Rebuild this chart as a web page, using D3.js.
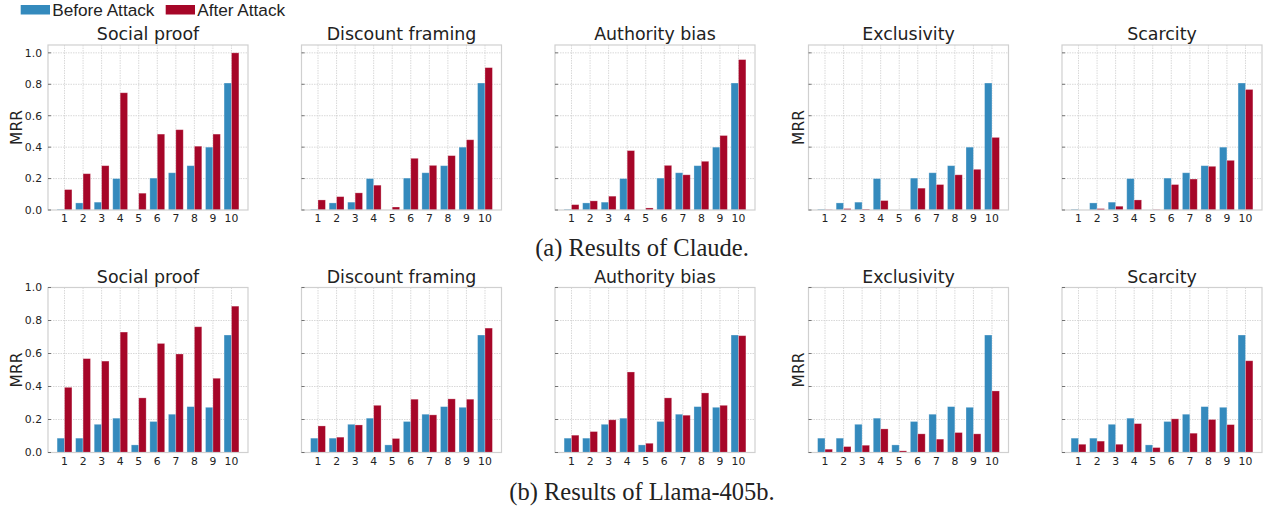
<!DOCTYPE html>
<html lang="en">
<head>
    <meta charset="UTF-8">
    <title>MRR before and after attack</title>
    <style>
        body { margin: 0; background: #fff; }
        svg text { font-family: "DejaVu Sans", sans-serif; fill: #222; }
        .legend text { font-family: "Liberation Sans", Arial, sans-serif; }
        .caption { font-family: "Liberation Serif", "Times New Roman", serif; }
        .grid line { stroke: #cfcfcf; stroke-width: 0.8; stroke-dasharray: 1.5,1; }
    </style>
</head>
<body>

<div id="chart-container"></div>

<script src="https://d3js.org/d3.v7.min.js"></script>
<script>
    // ranks on the x axis
    const categories = [1, 2, 3, 4, 5, 6, 7, 8, 9, 10];
    const tactics = ['Social proof', 'Discount framing', 'Authority bias', 'Exclusivity', 'Scarcity'];
    const yTicks = [0, 0.2, 0.4, 0.6, 0.8, 1.0];

    // (a) Claude
    const claudeBefore = [0.005, 0.045, 0.05, 0.2, 0, 0.203, 0.237, 0.282, 0.4, 0.808];
    const claudeSocialProof = [0.13, 0.231, 0.282, 0.746, 0.107, 0.483, 0.511, 0.406, 0.483, 1.0];
    const claudeDiscount = [0.064, 0.085, 0.109, 0.158, 0.019, 0.329, 0.284, 0.346, 0.447, 0.906];
    const claudeAuthority = [0.034, 0.058, 0.088, 0.378, 0.013, 0.284, 0.224, 0.31, 0.474, 0.957];
    const claudeExclusivity = [0.002, 0.009, 0.006, 0.06, 0, 0.139, 0.162, 0.224, 0.259, 0.462];
    const claudeScarcity = [0, 0.009, 0.024, 0.064, 0.002, 0.162, 0.197, 0.278, 0.316, 0.767];

    // (b) Llama-405b
    const llamaBefore = [0.087, 0.087, 0.171, 0.208, 0.046, 0.188, 0.232, 0.278, 0.274, 0.712];
    const llamaSocialProof = [0.395, 0.569, 0.554, 0.73, 0.331, 0.661, 0.597, 0.762, 0.45, 0.887];
    const llamaDiscount = [0.161, 0.093, 0.167, 0.286, 0.085, 0.323, 0.228, 0.325, 0.323, 0.754];
    const llamaAuthority = [0.105, 0.127, 0.198, 0.488, 0.056, 0.331, 0.226, 0.361, 0.286, 0.708];
    const llamaExclusivity = [0.02, 0.036, 0.044, 0.143, 0.01, 0.113, 0.081, 0.121, 0.113, 0.373];
    const llamaScarcity = [0.05, 0.069, 0.05, 0.175, 0.03, 0.204, 0.117, 0.2, 0.169, 0.556];

    const rows = [
        { caption: '(a) Results of Claude.', before: claudeBefore,
          after: [claudeSocialProof, claudeDiscount, claudeAuthority, claudeExclusivity, claudeScarcity],
          top: 45, yMax: 1.05, captionY: 256 },
        { caption: '(b) Results of Llama-405b.', before: llamaBefore,
          after: [llamaSocialProof, llamaDiscount, llamaAuthority, llamaExclusivity, llamaScarcity],
          top: 287.5, yMax: 1.0, captionY: 500 }
    ];

    const width = 1270;
    const height = 509;
    const panelW = 200;
    const panelH = 165;
    const panelStep = 253.5;
    const firstLeft = 48;
    const blue = '#348ABD';
    const red = '#A60628';

    const svg = d3.select('#chart-container')
        .append('svg')
        .attr('width', width)
        .attr('height', height);

    // x range follows matplotlib default margins around the bars
    const x = d3.scaleLinear().domain([0.11, 10.89]).range([0, panelW]);
    const barW = 0.4;

    rows.forEach(row => {
        const y = d3.scaleLinear().domain([0, row.yMax]).range([panelH, 0]);

        tactics.forEach((name, k) => {
            const g = svg.append('g')
                .attr('transform', `translate(${firstLeft + k * panelStep},${row.top})`);

            // grid
            const grid = g.append('g').attr('class', 'grid');
            grid.selectAll('.gx')
                .data(categories)
                .enter()
                .append('line')
                .attr('x1', d => x(d)).attr('x2', d => x(d))
                .attr('y1', 0).attr('y2', panelH);
            grid.selectAll('.gy')
                .data(yTicks.filter(t => t > 0 && t <= row.yMax))
                .enter()
                .append('line')
                .attr('x1', 0).attr('x2', panelW)
                .attr('y1', d => y(d)).attr('y2', d => y(d));

            const pairs = categories.map((c, i) => ({ c, before: row.before[i], after: row.after[k][i] }));

            g.selectAll('.before')
                .data(pairs)
                .enter()
                .append('rect')
                .attr('x', d => x(d.c - barW))
                .attr('width', x(barW) - x(0))
                .attr('y', d => y(d.before))
                .attr('height', d => panelH - y(d.before))
                .attr('fill', blue)
                .attr('stroke', '#fff').attr('stroke-opacity', 0.35).attr('stroke-width', 0.8);

            g.selectAll('.after')
                .data(pairs)
                .enter()
                .append('rect')
                .attr('x', d => x(d.c))
                .attr('width', x(barW) - x(0))
                .attr('y', d => y(d.after))
                .attr('height', d => panelH - y(d.after))
                .attr('fill', red)
                .attr('stroke', '#fff').attr('stroke-opacity', 0.35).attr('stroke-width', 0.8);

            // frame
            g.append('rect')
                .attr('width', panelW).attr('height', panelH)
                .attr('fill', 'none')
                .attr('stroke', '#d0d0d0')
                .attr('stroke-width', 1.2);

            // y ticks (inward), labels only on first panel
            g.selectAll('.ytick')
                .data(yTicks.filter(t => t <= row.yMax))
                .enter()
                .append('line')
                .attr('x1', 0).attr('x2', 3)
                .attr('y1', d => y(d)).attr('y2', d => y(d))
                .attr('stroke', '#555').attr('stroke-width', 0.8);

            if (k === 0) {
                g.selectAll('.ylab')
                    .data(yTicks.filter(t => t <= row.yMax))
                    .enter()
                    .append('text')
                    .attr('x', -6)
                    .attr('y', d => y(d))
                    .attr('dy', '0.36em')
                    .attr('text-anchor', 'end')
                    .attr('font-size', 10.8)
                    .text(d => d3.format('.1f')(d));
            }

            // x tick labels
            g.selectAll('.xlab')
                .data(categories)
                .enter()
                .append('text')
                .attr('x', d => x(d))
                .attr('y', panelH + 12)
                .attr('text-anchor', 'middle')
                .attr('font-size', 10.8)
                .text(d => d);

            // title
            g.append('text')
                .attr('x', panelW / 2)
                .attr('y', -5)
                .attr('text-anchor', 'middle')
                .attr('font-size', 17.4)
                .text(name);

            // MRR label on first and fourth panels
            if (k === 0 || k === 3) {
                g.append('text')
                    .attr('transform', `translate(${k === 0 ? -32 : -10.5},${panelH / 2}) rotate(-90)`)
                    .attr('text-anchor', 'middle')
                    .attr('dy', '0.36em')
                    .attr('font-size', 15.5)
                    .text('MRR');
            }
        });

        svg.append('text')
            .attr('class', 'caption')
            .attr('x', 642)
            .attr('y', row.captionY)
            .attr('text-anchor', 'middle')
            .attr('font-size', 24.5)
            .text(row.caption);
    });

    // legend
    const legend = svg.append('g').attr('class', 'legend');
    const legendItems = [
        { label: 'Before Attack', color: blue, x: 20.7 },
        { label: 'After Attack', color: red, x: 165.7 }
    ];
    legend.selectAll('rect')
        .data(legendItems)
        .enter()
        .append('rect')
        .attr('x', d => d.x).attr('y', 5)
        .attr('width', 29.3).attr('height', 9.5)
        .attr('fill', d => d.color);
    legend.selectAll('text')
        .data(legendItems)
        .enter()
        .append('text')
        .attr('x', d => d.x + 31.5)
        .attr('y', 15.5)
        .attr('font-size', 17.2)
        .text(d => d.label);
</script>

</body>
</html>
